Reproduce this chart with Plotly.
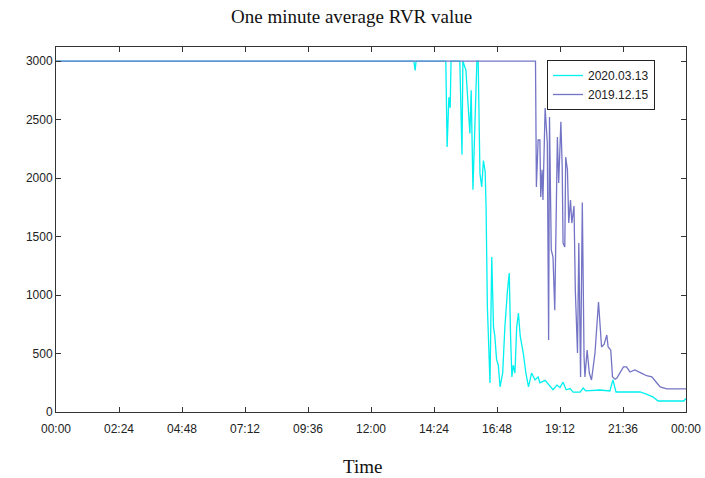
import plotly.graph_objects as go

# time in minutes after 00:00, RVR values in m
t_2020 = [0, 818, 821, 823, 891, 894, 898, 901, 903, 923, 928, 930, 937, 942, 946, 949, 953, 958, 962, 965,
          969, 973, 977, 981, 983, 986, 990, 992, 996, 1000, 1003, 1007, 1011, 1015, 1021, 1026, 1032, 1036,
          1039, 1042, 1045, 1049, 1053, 1057, 1061, 1064, 1068, 1074, 1080, 1087, 1095, 1102, 1106, 1118,
          1129, 1136, 1145, 1152, 1159, 1166, 1175, 1182, 1198, 1205, 1211, 1243, 1266, 1273, 1280, 1335,
          1351, 1365, 1376, 1435, 1440]
v_2020 = [3000, 3000, 2920, 3000, 3000, 2265, 2690, 2600, 3000, 3000, 2200, 3000, 2920, 2600, 2380, 2750, 1900,
          2520, 3000, 3000, 2040, 1923, 2150, 2050, 1750, 900, 333, 248, 1325, 726, 650, 450, 400, 214, 333, 726,
          1043, 1188, 650, 300, 400, 333, 726, 846, 650, 600, 504, 333, 214, 333, 274, 300, 250, 270, 220, 190,
          230, 210, 255, 190, 200, 170, 170, 205, 180, 188, 180, 274, 171, 171, 150, 128, 94, 94, 115]

t_2019 = [0, 1096, 1098, 1102, 1106, 1108, 1111, 1113, 1118, 1123, 1126, 1128, 1132, 1136, 1140, 1146, 1149,
          1154, 1157, 1159, 1163, 1165, 1169, 1172, 1176, 1179, 1184, 1187, 1192, 1195, 1199, 1203, 1207, 1209,
          1214, 1219, 1224, 1232, 1240, 1243, 1247, 1253, 1259, 1262, 1268, 1272, 1278, 1282, 1289, 1297, 1304,
          1312, 1323, 1331, 1339, 1350, 1362, 1373, 1381, 1396, 1440]
v_2019 = [3000, 3000, 1923, 2325, 2325, 1838, 2070, 1812, 2598, 2300, 615, 2521, 1385, 1325, 870, 2350, 1957,
          2480, 2100, 1444, 1410, 2180, 2070, 1615, 1812, 1615, 1760, 1043, 504, 1444, 300, 1790, 470, 300,
          530, 333, 274, 504, 940, 760, 556, 580, 658, 556, 530, 300, 280, 290, 330, 385, 385, 342, 360, 342,
          330, 310, 300, 250, 214, 197, 197]

tick_vals = [0, 144, 288, 432, 576, 720, 864, 1008, 1152, 1296, 1440]
tick_text = ["00:00", "02:24", "04:48", "07:12", "09:36", "12:00", "14:24", "16:48", "19:12", "21:36", "00:00"]
y_ticks = [0, 500, 1000, 1500, 2000, 2500, 3000]

fig = go.Figure()
fig.add_trace(go.Scatter(x=t_2020, y=v_2020, mode="lines", name="2020.03.13",
                         line=dict(color="#00F0F0", width=1.3)))
fig.add_trace(go.Scatter(x=t_2019, y=v_2019, mode="lines", name="2019.12.15",
                         line=dict(color="#7474C6", width=1.3)))

axis_common = dict(showline=True, linecolor="#333333", linewidth=1, mirror="ticks",
                   ticks="inside", ticklen=5, tickcolor="#333333", showgrid=False, zeroline=False,
                   automargin=False,
                   tickfont=dict(family="Liberation Sans, Arial", size=12, color="#222222"))

fig.update_xaxes(range=[0, 1440], tickvals=tick_vals, ticktext=tick_text, ticklabelstandoff=6,
                 **axis_common)
fig.update_yaxes(range=[0, 3120], tickvals=y_ticks, **axis_common)

plot_h = 478 - 47 - 66
fig.update_layout(
    width=705, height=478,
    margin=dict(l=56, r=19, t=47, b=66),
    plot_bgcolor="white", paper_bgcolor="white",
    showlegend=True,
    legend=dict(x=(547 - 56) / 630, y=(412 - 60) / plot_h, xanchor="left", yanchor="top",
                bordercolor="#222222", borderwidth=1, bgcolor="white",
                font=dict(family="Liberation Sans, Arial", size=12, color="#222222"),
                tracegroupgap=0, itemwidth=30, entrywidth=82, entrywidthmode="pixels"),
    annotations=[
        dict(text="One minute average RVR value", x=(351 - 56) / 630, y=(412 - 17) / plot_h,
             xref="paper", yref="paper", xanchor="center", yanchor="middle", showarrow=False,
             font=dict(family="Liberation Serif, Times New Roman", size=19, color="#111111")),
        dict(text="Time", x=(362 - 56) / 630, y=(412 - 466) / plot_h,
             xref="paper", yref="paper", xanchor="center", yanchor="middle", showarrow=False,
             font=dict(family="Liberation Serif, Times New Roman", size=19, color="#111111")),
    ],
)

fig.write_html("out.html")
